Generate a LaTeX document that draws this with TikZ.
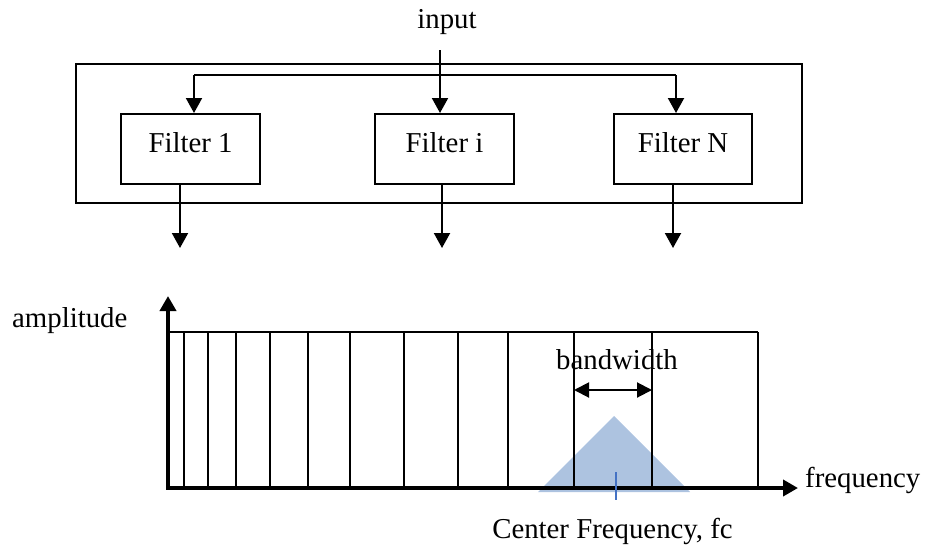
\documentclass[tikz,border=0pt]{standalone}
\usepackage{fontspec}
\setmainfont{Liberation Serif}
\usetikzlibrary{arrows.meta}
\definecolor{tri}{RGB}{173,195,224}
\definecolor{tick}{RGB}{68,114,196}
\begin{document}
\begin{tikzpicture}[x=1pt,y=-1pt,
  every node/.style={font=\fontsize{28.8}{34}\selectfont},
  filterbox/.style={draw,line width=2pt,inner sep=0pt,minimum height=70pt,text height=18pt,text depth=12pt},
  thinarrow/.style={line width=2pt,-{Triangle[length=15pt,width=16pt]}},
  axis/.style={line width=4pt,-{Triangle[length=15pt,width=16pt]}},
  bar/.style={line width=2.5pt},
  lbl/.style={anchor=base,inner sep=0pt}]
\useasboundingbox (0,0) rectangle (925,546);
% outer frame
\node[draw,line width=2pt,minimum width=726pt,minimum height=139pt,inner sep=0pt] (frame) at (439,133.5) {};
% filters
\node[filterbox,minimum width=139pt] (f1) at (190.5,149) {Filter 1};
\node[filterbox,minimum width=139pt] (fi) at (444.5,149) {Filter i};
\node[filterbox,minimum width=138pt] (fn) at (683,149) {Filter N};
% input
\node[lbl] (input) at (447,28) {input};
\coordinate (inS) at (440,50);
\draw[thinarrow] (inS) -- (inS |- fi.north);
\coordinate (busL) at (194,75);
\coordinate (busR) at (676,75);
\draw[line width=2pt] (busL) -- (busR);
\draw[thinarrow] (busL) -- (busL |- f1.north);
\draw[thinarrow] (busR) -- (busR |- fn.north);
% outputs
\coordinate (o1) at (180,248);
\coordinate (oi) at (442,248);
\coordinate (on) at (673,248);
\draw[thinarrow] (o1 |- f1.south) -- (o1);
\draw[thinarrow] (oi |- fi.south) -- (oi);
\draw[thinarrow] (on |- fn.south) -- (on);
% spectrum plot
\coordinate (O) at (168,488);
\coordinate (Ytop) at (168,296);
\coordinate (Xend) at (798,488);
\coordinate (TL) at (168,332);
\coordinate (TR) at (758,332);
\coordinate (apex) at (614,416);
\coordinate (bl) at (538,492);
\coordinate (br) at (690,492);
\fill[tri] (bl) -- (apex) -- (br) -- cycle;
\draw[line width=2.5pt] (TL) -- (TR);
\foreach \xx in {184,208,236,270,308,350,404,458,508,574,652,758}
  \draw[bar] (\xx,332) -- (\xx,488);
\draw[axis] (O) -- (Ytop);
\draw[axis] ([xshift=-2pt]O) -- (Xend);
\coordinate (fcT) at (616,472);
\coordinate (fcB) at (616,500);
\draw[tick,line width=1.5pt] (fcT) -- (fcB);
\coordinate (bwL) at (574,390);
\coordinate (bwR) at (652,390);
\draw[line width=2pt,{Triangle[length=15pt,width=15pt]}-{Triangle[length=15pt,width=15pt]}] (bwL) -- (bwR);
% labels
\node[lbl,anchor=base west] (amp) at (12,327) {amplitude};
\node[lbl] (bw) at (617,369) {bandwidth};
\node[lbl,anchor=base west] (freq) at (805,487) {frequency};
\node[lbl] (fc) at (612.5,538) {Center Frequency, fc};
\end{tikzpicture}
\end{document}
